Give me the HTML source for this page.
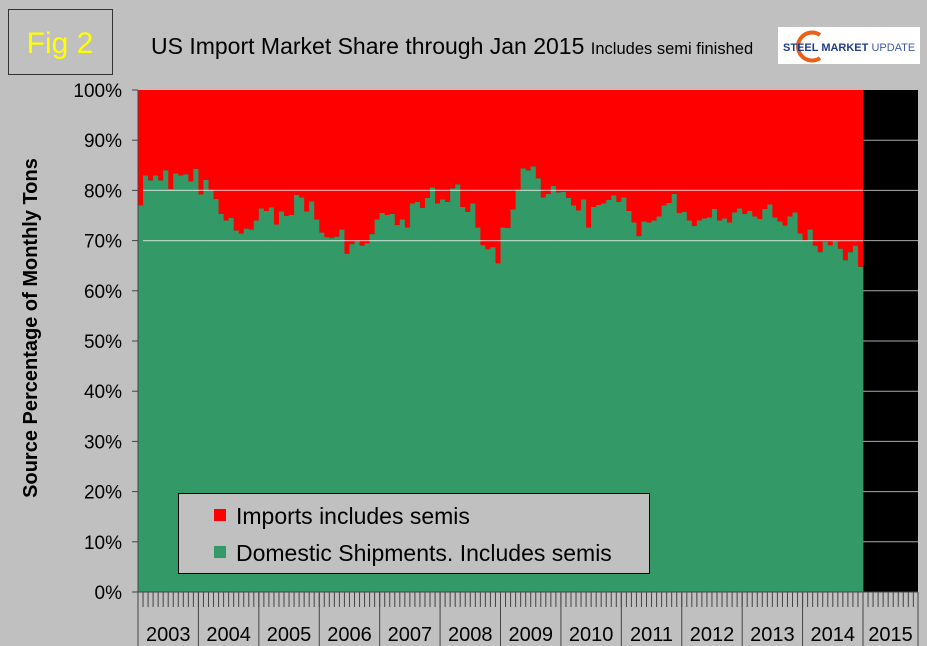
<!DOCTYPE html>
<html><head><meta charset="utf-8"><style>
body{margin:0;background:#c0c0c0;}
svg{display:block;font-family:"Liberation Sans",Arial,sans-serif;}
</style></head><body>
<svg id="chart" width="927" height="646" viewBox="0 0 927 646" xmlns="http://www.w3.org/2000/svg">
<rect width="927" height="646" fill="#c0c0c0"/>
<rect x="8.5" y="9.5" width="104" height="65" fill="#c0c0c0" stroke="#333"/>
<text x="60" y="53" font-size="30" fill="#ffff00" text-anchor="middle">Fig 2</text>
<text x="151" y="54" font-size="23" fill="#000">US Import Market Share through Jan 2015 <tspan font-size="16.5">Includes semi finished</tspan></text>
<g>
<rect x="778" y="27" width="142" height="37" fill="#fff"/>
<path d="M820 35 A14 14 0 1 0 820 58" fill="none" stroke="#e8601a" stroke-width="4"/>
<text x="783" y="51" font-size="11" font-weight="bold" fill="#1f3d8a">STEEL <tspan fill="#1f3d8a">MARKET</tspan> <tspan font-weight="normal" fill="#3c5aa8">UPDATE</tspan></text>
</g>
<g id="plot"></g>
<g id="axes"></g>
<text transform="translate(37,328) rotate(-90)" font-size="20" font-weight="bold" text-anchor="middle">Source Percentage of Monthly Tons</text>
<g>
<rect x="178.5" y="493.5" width="471" height="80" fill="#c0c0c0" stroke="#000"/>
<rect x="214" y="509" width="12" height="12" fill="#ff0000"/>
<text x="236" y="524" font-size="23">Imports includes semis</text>
<rect x="214" y="546" width="12" height="12" fill="#339966"/>
<text x="236" y="561" font-size="23">Domestic Shipments. Includes semis</text>
</g>
</svg>
<script>
const years = ["2003","2004","2005","2006","2007","2008","2009","2010","2011","2012","2013","2014","2015"];
const yTicks = [0,10,20,30,40,50,60,70,80,90,100];
const domestic = [
77,83,82,83,82,84,80.3,83.4,83,83.2,81.8,84.3,
79.2,82.1,80,78.3,75.3,74,74.5,72,71.4,72.4,72.2,74,
76.4,75.9,76.6,73.2,75.8,74.9,75.1,79.1,78.6,75.8,77.8,74.2,
71.6,70.7,70.5,70.8,72.2,67.4,69.3,69.9,69,69.5,71.3,74.2,
75.5,75.1,75.3,73.1,74.2,72.6,77.4,77.7,76.5,78.5,80.6,77.4,
78.2,77.7,80.4,81.2,76.7,75.7,77.4,72.6,69.1,68.3,68.7,65.5,
72.6,72.5,76.2,80.1,84.4,84,84.8,82.4,78.6,79.3,80.9,79.6,
79.7,78.5,77,76,78.2,72.6,76.7,77.1,77.4,78.1,79,77.7,
78.6,75.9,73.6,70.9,73.8,73.6,74,74.8,77,77.5,79.3,75.5,
75.7,74,72.9,74,74.4,74.6,76.3,74,74.4,73.6,75.6,76.4,
75.3,75.9,74.8,74.3,76.3,77.2,74.6,73.8,73,74.8,75.6,71.4,
70,72.2,69,67.7,69.8,69.1,69.9,68.4,66.1,67.7,69,64.8];
const imports = domestic.map(d => 100 - d);

const NS="http://www.w3.org/2000/svg";
const x0=138, x1=918, yTop=90, yBot=592;
const monthW=(863-x0)/144;
function xPos(i){return x0+i*monthW;}
function yPos(v){return yBot-(v/100)*(yBot-yTop);}
function mk(tag,attrs,parent){const e=document.createElementNS(NS,tag);for(const k in attrs)e.setAttribute(k,attrs[k]);parent.appendChild(e);return e;}
const plot=document.getElementById('plot'), axes=document.getElementById('axes');

const bb=mk('rect',{x:xPos(0),y:yTop,width:x1-x0,height:yBot-yTop,fill:'#000'},plot);


yTicks.forEach(t=>{
  if(t===0||t===100)return;
  const g=mk('line',{x1:x0,x2:x1,y1:yPos(t),y2:yPos(t),stroke:'#aaa','stroke-width':1},plot);
  
  
});
domestic.forEach((d,i)=>{
  const r=mk('rect',{x:xPos(i),y:yTop,width:monthW+0.4,height:yPos(d)-yTop,fill:'#ff0000'},plot);
  
  
  const g=mk('rect',{x:xPos(i),y:yPos(d),width:monthW+0.4,height:yBot-yPos(d),fill:'#339966'},plot);
  
  
});
[70,80].forEach(t=>{
  const g=mk('line',{x1:x0+5,x2:863,y1:yPos(t),y2:yPos(t),stroke:'#ffffff','stroke-opacity':0.6,'stroke-width':1.2},plot);
  
  
});
mk('line',{x1:x0,x2:x0,y1:yTop,y2:646,stroke:'#444'},axes);
mk('line',{x1:x0-6,x2:x1,y1:yBot,y2:yBot,stroke:'#444'},axes);
yTicks.forEach(t=>{
  mk('line',{x1:x0-6,x2:x0,y1:yPos(t),y2:yPos(t),stroke:'#444'},axes);
  const tx=mk('text',{x:x0-16,y:yPos(t)+7,'font-size':19,'text-anchor':'end'},axes);
  tx.textContent=t+'%';
  
  
});
for(let i=0;i<=155;i++){
  const x=x0+i*monthW; if(x>x1)break;
  mk('line',{x1:x,x2:x,y1:yBot,y2:607,stroke:'#444','stroke-width':1},axes);
}
years.forEach((y,k)=>{
  const xa=x0+k*12*monthW, xb=Math.min(x0+(k+1)*12*monthW,x1);
  mk('line',{x1:xb,x2:xb,y1:yBot,y2:646,stroke:'#444'},axes);
  const tx=mk('text',{x:(xa+xb)/2,y:641,'font-size':20,'text-anchor':'middle'},axes);
  tx.textContent=y;
  
  
});
</script>
</body></html>
